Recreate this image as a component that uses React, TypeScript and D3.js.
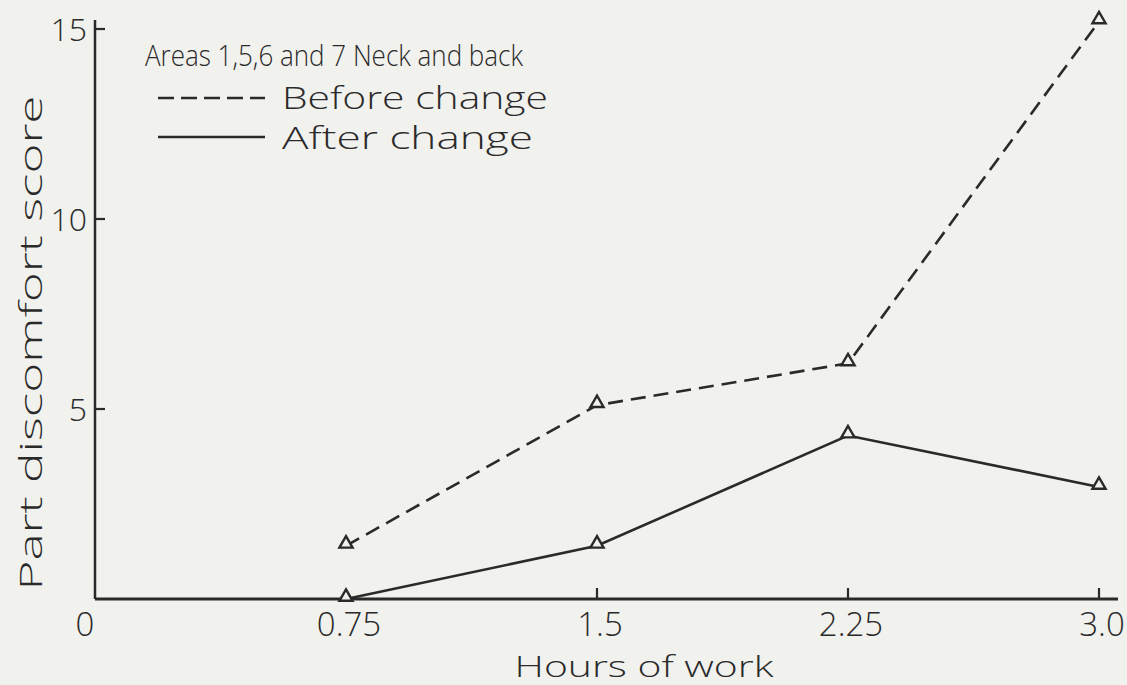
import React from "react";
import * as d3 from "d3";

const hours = [0.75, 1.5, 2.25, 3.0];
const beforeChange = [1.4, 5.1, 6.2, 15.2];
const afterChange = [0, 1.4, 4.3, 2.95];
const xTickLabels = ["0", "0.75", "1.5", "2.25", "3.0"];
const xTickValues = [0, 0.75, 1.5, 2.25, 3.0];
const yTickValues = [5, 10, 15];
const legendTitle = "Areas 1,5,6 and 7  Neck and back";
const seriesNames = ["Before change", "After change"];

const W = 1127;
const H = 685;
const INK = "#2a2a2a";
const BG = "#f1f1ee";
const FONT = "'Open Sans', 'Noto Sans', 'DejaVu Sans', sans-serif";

export default function App() {
  const x = d3.scaleLinear().domain([0, 3]).range([95, 1099]);
  const y = d3.scaleLinear().domain([0, 15]).range([599, 29]);
  const line = d3
    .line<[number, number]>()
    .x((d) => x(d[0]))
    .y((d) => y(d[1]));
  const beforePts = hours.map((h, i) => [h, beforeChange[i]] as [number, number]);
  const afterPts = hours.map((h, i) => [h, afterChange[i]] as [number, number]);
  const tri = d3.symbol().type(d3.symbolTriangle).size(75)();

  const markers = (pts: [number, number][], key: string) =>
    pts.map((p, i) => (
      <path
        key={key + i}
        d={tri as string}
        transform={`translate(${x(p[0])},${y(p[1]) - 2})`}
        fill={BG}
        stroke={INK}
        strokeWidth={2.4}
      />
    ));

  return (
    <svg
      width={W}
      height={H}
      style={{ position: "absolute", left: 0, top: 0 }}
      fontFamily={FONT}
      fontWeight={300}
    >
      <rect x={0} y={0} width={W} height={H} fill={BG} />
      {/* axes */}
      <line x1={x(0)} y1={y(0)} x2={x(0)} y2={20} stroke={INK} strokeWidth={2.5} />
      <line x1={x(0)} y1={y(0)} x2={1118} y2={y(0)} stroke={INK} strokeWidth={3} />
      {yTickValues.map((v) => (
        <g key={"yt" + v}>
          <line x1={x(0)} x2={x(0) + 10} y1={y(v)} y2={y(v)} stroke={INK} strokeWidth={2.2} />
          <text
            x={x(0) - 8}
            y={y(v)}
            dy="0.36em"
            textAnchor="end"
            fontSize={32}
            fill={INK}
          >
            {v}
          </text>
        </g>
      ))}
      {xTickValues.map((v, i) => (
        <g key={"xt" + v}>
          {v >= 1.5 && (
            <line x1={x(v)} x2={x(v)} y1={y(0)} y2={y(0) - 11} stroke={INK} strokeWidth={2.2} />
          )}
          <text
            x={v === 0 ? x(v) - 10 : x(v) + 3}
            y={y(0) + 37}
            textAnchor="middle"
            fontSize={33}
            fill={INK}
          >
            {xTickLabels[i]}
          </text>
        </g>
      ))}
      <text x={644} y={677} textAnchor="middle" fontSize={29} fill={INK} textLength={259} lengthAdjust="spacingAndGlyphs">
        Hours of work
      </text>
      <text
        transform={`translate(42,${343}) rotate(-90)`}
        textAnchor="middle"
        fontSize={31}
        fill={INK}
        textLength={495}
        lengthAdjust="spacingAndGlyphs"
      >
        Part discomfort score
      </text>
      {/* legend */}
      <text x={145} y={66} fontSize={30} fill={INK} textLength={378} lengthAdjust="spacingAndGlyphs">
        {legendTitle}
      </text>
      <line x1={158} x2={265} y1={98} y2={98} stroke={INK} strokeWidth={2.5} strokeDasharray="16 7" />
      <text x={282} y={109} fontSize={32} fill={INK} textLength={266} lengthAdjust="spacingAndGlyphs">
        {seriesNames[0]}
      </text>
      <line x1={158} x2={265} y1={137} y2={137} stroke={INK} strokeWidth={2.5} />
      <text x={282} y={149} fontSize={32} fill={INK} textLength={251} lengthAdjust="spacingAndGlyphs">
        {seriesNames[1]}
      </text>
      {/* series */}
      <path d={line(beforePts) as string} fill="none" stroke={INK} strokeWidth={2.6} strokeDasharray="15 8" />
      <path d={line(afterPts) as string} fill="none" stroke={INK} strokeWidth={2.6} />
      {markers(beforePts, "b")}
      {markers(afterPts, "a")}
    </svg>
  );
}
